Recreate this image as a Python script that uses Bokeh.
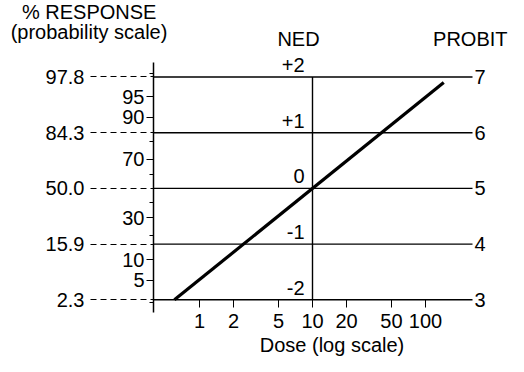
from statistics import NormalDist

from bokeh.plotting import figure
from bokeh.models import Range1d, LinearAxis, LogAxis, FixedTicker
from bokeh.core.properties import value
from bokeh.embed import file_html
from bokeh.resources import INLINE

# ---------------- data ----------------
prob_tick_pct = [5, 10, 30, 70, 90, 95]
prob_tick_labels = ["5", "10", "30", "70", "90", "95"]
prob_minor_pct = [2, 20, 40, 60, 80, 98]
probit_levels = [3, 4, 5, 6, 7]
response_labels = ["2.3", "15.9", "50.0", "84.3", "97.8"]
ned_labels = ["-2", "-1", "0", "+1", "+2"]
probit_labels = ["3", "4", "5", "6", "7"]
dose_ticks = [1, 2, 5, 10, 20, 50, 100]
dose_labels = ["1", "2", "5", "10", "20", "50", "100"]
ned_dose = [10]
line_dose = [0.6, 145]
line_probit = [3.0, 6.9]

# ---------------- layout ----------------
W, H = 508, 356
X10, X_DEC = 312.0, 113.0      # canvas px of dose 10, px per decade
Y5, Y_UNIT = 187.9, 55.71      # canvas px of probit 5, px per probit
FONT = "Liberation Sans"
FS = "20px"


def dose_at(cx):
    return 10 ** (1 + (cx - X10) / X_DEC)


def probit_at(cy):
    return 5 + (Y5 - cy) / Y_UNIT


axis_dose = dose_at(153)     # left (probability) axis position
right_dose = dose_at(472)    # right end of horizontal lines

nd = NormalDist()
prob_ticks = [5 + nd.inv_cdf(v / 100) for v in prob_tick_pct]
prob_minor = [5 + nd.inv_cdf(v / 100) for v in prob_minor_pct]

p = figure(width=W, height=H, x_axis_type="log",
           x_axis_location=None, y_axis_location=None,
           x_range=Range1d(dose_at(0), dose_at(W)),
           y_range=Range1d(probit_at(H), probit_at(0)),
           toolbar_location=None, output_backend="svg",
           min_border=0, outline_line_color=None)
p.grid.visible = False
p.background_fill_color = "white"
p.border_fill_color = "white"


def style(ax):
    ax.major_label_text_font = FONT
    ax.major_label_text_font_size = FS
    ax.major_label_text_color = "black"
    ax.major_tick_line_color = "black"
    ax.minor_tick_line_color = "black"
    ax.axis_line_color = "black"


# probability axis
prob_axis = LinearAxis(fixed_location=axis_dose,
                       ticker=FixedTicker(ticks=prob_ticks, minor_ticks=prob_minor),
                       bounds=(probit_at(312), probit_at(62)),
                       major_label_overrides=dict(zip(prob_ticks, prob_tick_labels)),
                       major_tick_out=7, major_tick_in=0,
                       minor_tick_out=4, minor_tick_in=0,
                       major_label_standoff=2)
style(prob_axis)
prob_axis.axis_line_width = 1.5
p.add_layout(prob_axis, "left")

# dashed response-level axis
resp_axis = LinearAxis(fixed_location=axis_dose,
                       ticker=FixedTicker(ticks=probit_levels),
                       major_label_overrides=dict(zip(probit_levels, response_labels)),
                       major_tick_out=63, major_tick_in=0,
                       major_label_standoff=6)
style(resp_axis)
resp_axis.axis_line_color = None
resp_axis.minor_tick_line_color = None
resp_axis.major_tick_line_dash = "6 4"
resp_axis.major_tick_line_width = 1.2
p.add_layout(resp_axis, "left")

# dose axis
dose_axis = LogAxis(fixed_location=probit_levels[0],
                    ticker=FixedTicker(ticks=dose_ticks),
                    major_label_overrides=dict(zip(dose_ticks, dose_labels)),
                    major_tick_out=8, major_tick_in=0,
                    major_label_standoff=6)
style(dose_axis)
dose_axis.axis_line_color = None
dose_axis.minor_tick_line_color = None
p.add_layout(dose_axis, "below")

# probit axis on right
probit_axis = LinearAxis(fixed_location=right_dose,
                         ticker=FixedTicker(ticks=probit_levels),
                         major_label_overrides=dict(zip(probit_levels, probit_labels)),
                         major_tick_out=0, major_tick_in=0,
                         major_label_standoff=2)
style(probit_axis)
probit_axis.axis_line_color = None
probit_axis.minor_tick_line_color = None
p.add_layout(probit_axis, "right")

# horizontal probit lines
p.segment(x0=[axis_dose] * len(probit_levels), y0=probit_levels,
          x1=[right_dose] * len(probit_levels), y1=probit_levels,
          line_color="black", line_width=1.4)
# NED vertical line at dose 10
p.segment(x0=ned_dose, y0=[probit_levels[0]], x1=ned_dose, y1=[probit_levels[-1]],
          line_color="black", line_width=1.4)
# NED labels
p.text(x=ned_dose * len(probit_levels), y=probit_levels, text=ned_labels,
       text_font=value(FONT), text_font_size=FS, text_color="black",
       text_align="right", text_baseline="middle", x_offset=-8, y_offset=-12)

# dose-response line
p.line(line_dose, line_probit, line_color="black", line_width=3.2)


# titles
def title(txt, cx, cy, align="center"):
    p.text(x=[dose_at(cx)], y=[probit_at(cy)], text=[txt],
           text_font=value(FONT), text_font_size=FS, text_color="black",
           text_align=align, text_baseline="middle")


title("% RESPONSE", 88.7, 11)
title("(probability scale)", 88.5, 31.8)
title("NED", 298, 38.4)
title("PROBIT", 507, 38.4, align="right")
title("Dose (log scale)", 331.5, 344)

open("out.html", "w").write(file_html(p, INLINE))
